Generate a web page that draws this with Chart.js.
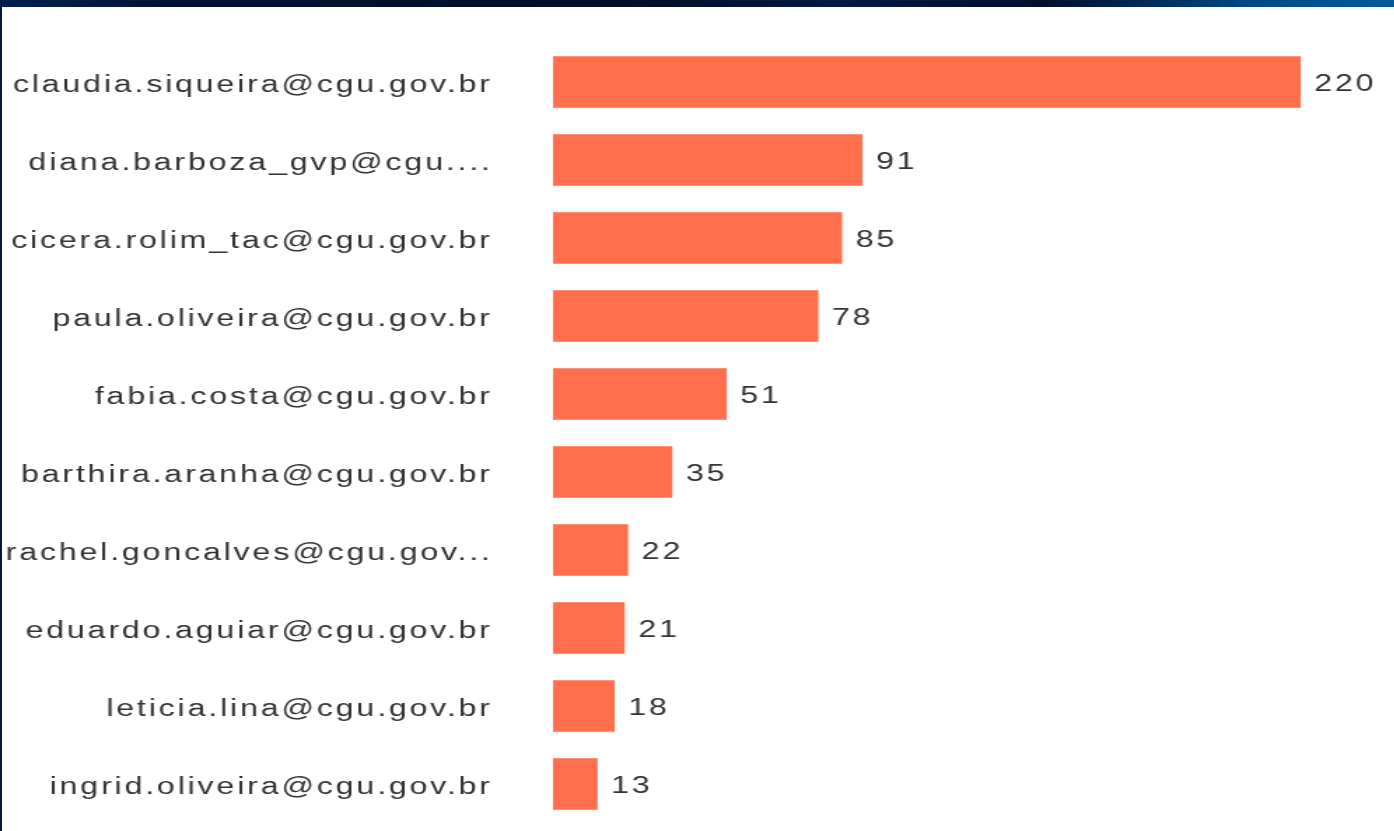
<!DOCTYPE html>
<html>
<head>
<meta charset="utf-8">
<script src="https://cdn.jsdelivr.net/npm/chart.js@4/dist/chart.umd.min.js"></script>
<style>
  html, body { margin: 0; padding: 0; background: #fff; overflow: hidden; }
  #wrap { position: absolute; left: 0; top: 0; width: 996px; height: 831px;
          transform: scaleX(1.4); transform-origin: 0 0; }
  #band { position: absolute; left: 0; top: 0; width: 1394px; height: 7px; z-index: 2;
          background: linear-gradient(to right, #00204f 0%, #001232 12%, #000d26 45%, #00193f 60%, #000f2c 75%, #004a86 90%, #005a9a 100%); }
  #edge { position: absolute; left: 0; top: 0; width: 2px; height: 831px; background: #001a40; z-index: 2; }
</style>
</head>
<body>
<div id="band"></div>
<div id="edge"></div>
<div id="wrap"><canvas id="barChart" width="996" height="831"></canvas></div>
<script>
const users = [
  "claudia.siqueira@cgu.gov.br",
  "diana.barboza_gvp@cgu....",
  "cicera.rolim_tac@cgu.gov.br",
  "paula.oliveira@cgu.gov.br",
  "fabia.costa@cgu.gov.br",
  "barthira.aranha@cgu.gov.br",
  "rachel.goncalves@cgu.gov...",
  "eduardo.aguiar@cgu.gov.br",
  "leticia.lina@cgu.gov.br",
  "ingrid.oliveira@cgu.gov.br"
];
const counts = [220, 91, 85, 78, 51, 35, 22, 21, 18, 13];

// the reference text is wide and spaced out
const spacing = {
  id: "spacing",
  beforeUpdate(chart) { chart.ctx.letterSpacing = "2px"; },
  beforeDraw(chart) { chart.ctx.letterSpacing = "2px"; }
};

const valueLabels = {
  id: "valueLabels",
  afterDatasetsDraw(chart) {
    const ctx = chart.ctx;
    const meta = chart.getDatasetMeta(0);
    ctx.save();
    ctx.letterSpacing = "2px";
    ctx.font = "23px 'Liberation Sans', Arial, sans-serif";
    ctx.fillStyle = "#333333";
    ctx.textAlign = "left";
    ctx.textBaseline = "middle";
    meta.data.forEach((bar, i) => {
      ctx.fillText(String(counts[i]), bar.x + 10, bar.y + 3);
    });
    ctx.restore();
  }
};

new Chart(document.getElementById("barChart"), {
  type: "bar",
  data: {
    labels: users,
    datasets: [{
      label: "Total",
      data: counts,
      backgroundColor: "#ff6f4c",
      barThickness: 51
    }]
  },
  options: {
    indexAxis: "y",
    responsive: false,
    animation: false,
    layout: { autoPadding: false, padding: { top: 43, bottom: 8, left: 0, right: 43 } },
    plugins: { legend: { display: false }, tooltip: { enabled: false } },
    scales: {
      x: {
        display: false,
        min: 0,
        max: 230
      },
      y: {
        grid: { display: false },
        border: { display: false },
        ticks: {
          color: "#333333",
          padding: 35,
          labelOffset: 4,
          font: { family: "'Liberation Sans', Arial, sans-serif", size: 23 }
        },
        afterFit(scale) {
          scale.width = 395;
          scale.paddingTop = 0;
          scale.paddingBottom = 0;
        }
      }
    }
  },
  plugins: [spacing, valueLabels]
});
</script>
</body>
</html>
